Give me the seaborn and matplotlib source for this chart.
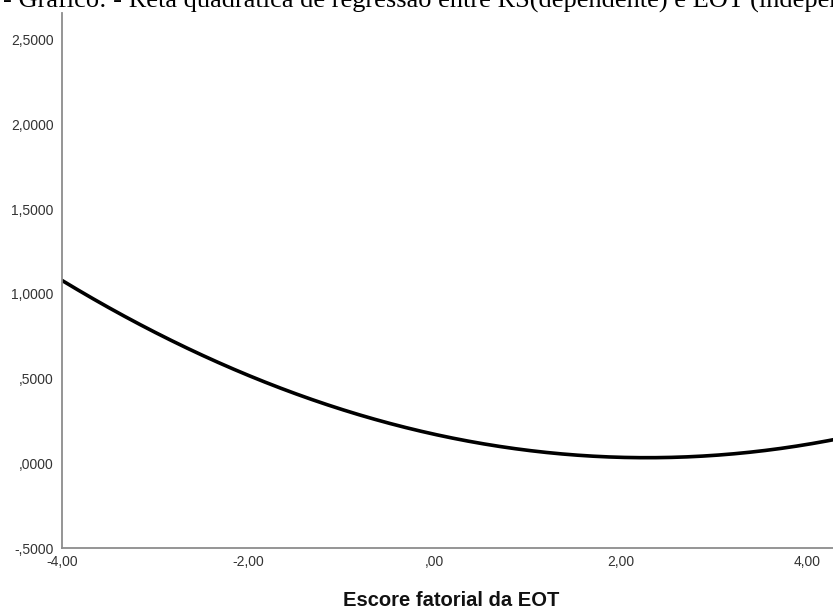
import numpy as np
import pandas as pd
import matplotlib
matplotlib.use("Agg")
import matplotlib.pyplot as plt
import seaborn as sns

# Quadratic regression of RS on EOT: RS = b0 + b1*EOT + b2*EOT^2
b0, b1, b2 = 0.171, -0.121, 0.0265

x_ticks = [-4.0, -2.0, 0.0, 2.0, 4.0]
x_tick_labels = ["-4,00", "-2,00", ",00", "2,00", "4,00"]
y_ticks = [-0.5, 0.0, 0.5, 1.0, 1.5, 2.0, 2.5]
y_tick_labels = ["-,5000", ",0000", ",5000", "1,0000", "1,5000", "2,0000", "2,5000"]

title_text = "- Gráfico: - Reta quadrática de regressão entre RS(dependente) e EOT (independente)"
x_label = "Escore fatorial da EOT"

x_min, x_max = -4.0, 4.37
eot = np.linspace(x_min, x_max, 400)
df = pd.DataFrame({"EOT": eot, "RS": b0 + b1 * eot + b2 * eot ** 2})

sns.set_theme(style="white")
plt.rcParams["font.family"] = ["Liberation Sans", "DejaVu Sans"]

fig = plt.figure(figsize=(8.33, 6.12), dpi=100)
ax = fig.add_axes([62 / 833, 1 - 548 / 612, 1 - 62 / 833 + 0.01, (548 - 13) / 612])

sns.lineplot(data=df, x="EOT", y="RS", ax=ax, color="black", linewidth=2.6)

ax.set_xlim(x_min, x_max)
ax.set_ylim(-0.5, 2.657)
ax.set_xticks(x_ticks)
ax.set_xticklabels(x_tick_labels, fontsize=10, color="#333333")
ax.set_yticks(y_ticks)
ax.set_yticklabels(y_tick_labels, fontsize=10, color="#333333")
ax.tick_params(axis="both", length=0)
ax.tick_params(axis="x", pad=5)
ax.tick_params(axis="y", pad=6)
ax.set_xlabel("")
ax.set_ylabel("")

for side in ["top", "right"]:
    ax.spines[side].set_visible(False)
for side in ["left", "bottom"]:
    ax.spines[side].set_color("#8c8c8c")
    ax.spines[side].set_linewidth(1.3)

fig.text(451 / 833, 1 - 600 / 612, x_label, fontsize=14.5, fontweight="bold", color="#111111",
         ha="center", va="center")

fig.text(0.004, 1 - 7.5 / 612, title_text, fontsize=19, family=["Liberation Serif", "DejaVu Serif"],
         color="black", ha="left", va="baseline")

fig.savefig("out.png", dpi=100)
